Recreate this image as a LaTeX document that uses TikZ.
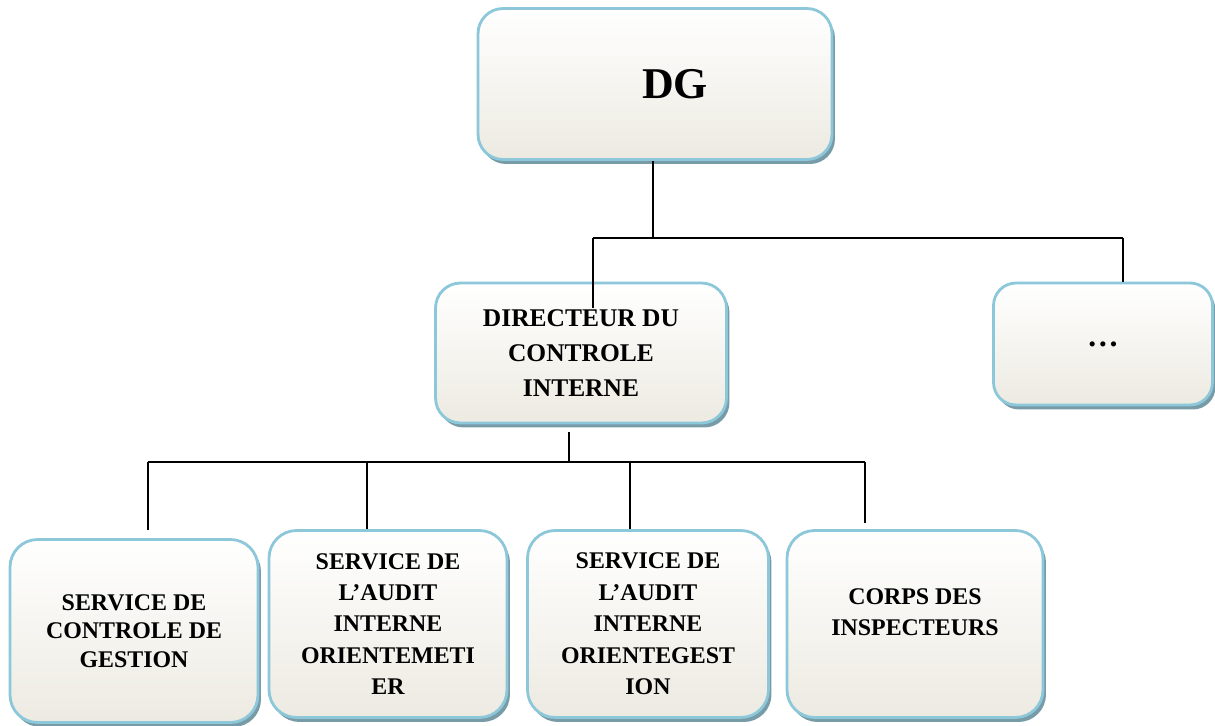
\documentclass[tikz,border=0pt]{standalone}
\usepackage{fontspec}
\setmainfont{Liberation Serif}
\usetikzlibrary{shadows}
\definecolor{boxline}{RGB}{140,200,218}
\definecolor{boxbot}{RGB}{236,234,225}
\definecolor{boxshade}{RGB}{120,155,168}

\begin{document}
\begin{tikzpicture}[x=0.02cm,y=-0.02cm,
  box/.style={draw=boxline,line width=1.6pt,top color=white,bottom color=boxbot,
    rounded corners=0.55cm,align=center,inner sep=0pt,
    drop shadow={shadow xshift=0.06cm,shadow yshift=-0.09cm,fill=boxshade,opacity=1}},
  big/.style={font=\fontsize{14.5}{19.8}\selectfont\bfseries},
  small/.style={font=\fontsize{13.6}{17.9}\selectfont\bfseries},
  link/.style={line width=1pt}]
  \useasboundingbox (0,0) rectangle (1215,726);

  \node[box,rounded corners=0.5cm,minimum width=7.08cm,minimum height=3.02cm,
    font=\fontsize{25}{30}\selectfont\bfseries] (dg) at (655,84) {\hspace*{0.8cm}DG};

  \node[box,big,rounded corners=0.5cm,minimum width=5.82cm,minimum height=2.8cm]
    (dir) at (581,353) {DIRECTEUR DU\\CONTROLE\\INTERNE};
  \node[box,rounded corners=0.45cm,minimum width=4.38cm,minimum height=2.44cm,
    font=\fontsize{18}{20}\selectfont\bfseries] (more) at (1103,344) {…};

  \node[box,small,minimum width=4.96cm,minimum height=3.66cm,
    font=\fontsize{13.6}{16.2}\selectfont\bfseries] (cg) at (134,631)
    {SERVICE DE\\CONTROLE DE\\GESTION};
  \node[box,small,minimum width=4.76cm,minimum height=3.74cm] (am) at (388,624)
    {SERVICE DE\\L’AUDIT\\INTERNE\\ORIENTEMETI\\ER};
  \node[box,small,minimum width=4.82cm,minimum height=3.74cm] (ag) at (648,624)
    {SERVICE DE\\L’AUDIT\\INTERNE\\ORIENTEGEST\\ION};
  \node[box,small,minimum width=5.12cm,minimum height=3.74cm] (ci) at (915,624)
    {CORPS DES\\INSPECTEURS\\[-0.15cm]};

  % upper level
  \coordinate (dgfoot) at (653,238);
  \coordinate (tl) at (593,238);
  \coordinate (tr) at (1123,238);
  \coordinate (dirin) at (593,308);
  \draw[link] (dg.south -| dgfoot) -- (dgfoot);
  \draw[link] (tl) -- (tr);
  \draw[link] (tl) -- (dirin);
  \draw[link] (tr) -- (tr |- more.north);

  % lower level
  \coordinate (dirfoot) at (569,462);
  \coordinate (bl) at (148,462);
  \coordinate (b2) at (367,462);
  \coordinate (b3) at (630,462);
  \coordinate (br) at (865,462);
  \draw[link] ([yshift=-0.16cm]dir.south -| dirfoot) -- (dirfoot);
  \draw[link] (bl) -- (br);
  \draw[link] (bl) -- ([yshift=0.16cm]cg.north -| bl);
  \draw[link] (b2) -- (am.north -| b2);
  \draw[link] (b3) -- (ag.north -| b3);
  \draw[link] (br) -- ([yshift=0.12cm]ci.north -| br);
\end{tikzpicture}
\end{document}
